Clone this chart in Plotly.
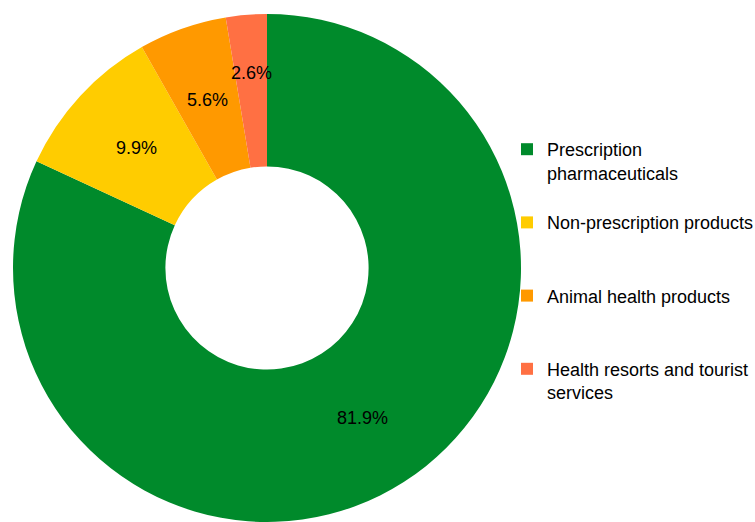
import math
import plotly.graph_objects as go

# ---- data ----
categories = ["Prescription<br>pharmaceuticals",
              "Non-prescription products",
              "Animal health products",
              "Health resorts and tourist<br>services"]
values = [81.9, 9.9, 5.6, 2.6]

# ---- style ----
colors = ["#008A2B", "#FFCC00", "#FF9900", "#FF7043"]
FONT = "Liberation Sans, Arial, sans-serif"
HOLE = 0.4
label_radius = [0.70, 0.70, 0.70, 0.77]   # relative radius of each percent label

W, H = 755, 522
R = 254                      # pie radius in px
CX, CY = 267, 14 + R         # pie centre in px (from top-left)
dom_x = [(CX - R) / W, (CX + R) / W]
dom_y = [1 - (CY + R) / H, 1 - (CY - R) / H]

# pad legend labels to three lines so the entries are evenly spaced
legend_labels = []
for c in categories:
    n = c.count("<br>") + 1
    legend_labels.append(c + "<br> " * (3 - n))

fig = go.Figure()
fig.add_trace(go.Pie(
    labels=legend_labels,
    values=values,
    sort=False,
    direction="clockwise",
    rotation=0,
    hole=HOLE,
    marker=dict(colors=colors, line=dict(width=0)),
    textinfo="none",
    domain=dict(x=dom_x, y=dom_y),
    hoverinfo="label+value",
))

# hidden axes laid exactly over the pie, range [-1, 1] = pie radius
fig.update_layout(
    xaxis=dict(domain=dom_x, range=[-1, 1], visible=False, fixedrange=True),
    yaxis=dict(domain=dom_y, range=[-1, 1], visible=False, fixedrange=True),
)

# percent labels at the middle angle of each slice
total = sum(values)
cum = 0.0
for v, rr in zip(values, label_radius):
    mid = (cum + v / 2) / total * 2 * math.pi
    cum += v
    fig.add_annotation(
        x=rr * math.sin(mid), y=rr * math.cos(mid),
        xref="x", yref="y",
        text=f"{v:.1f}%", showarrow=False,
        font=dict(family=FONT, size=18, color="black"),
        xanchor="center", yanchor="middle",
    )

fig.update_layout(
    width=W, height=H,
    margin=dict(l=0, r=0, t=0, b=0, autoexpand=False),
    paper_bgcolor="white",
    plot_bgcolor="rgba(0,0,0,0)",
    showlegend=True,
    legend=dict(
        x=507 / W, xanchor="left",
        y=1 - 131 / H, yanchor="top",
        font=dict(family=FONT, size=18, color="black"),
        valign="top",
        bgcolor="rgba(0,0,0,0)",
    ),
)

fig.write_html("out.html",
               config={"displayModeBar": False},
               post_script="document.body.style.margin='0';document.body.style.overflow='hidden';")
